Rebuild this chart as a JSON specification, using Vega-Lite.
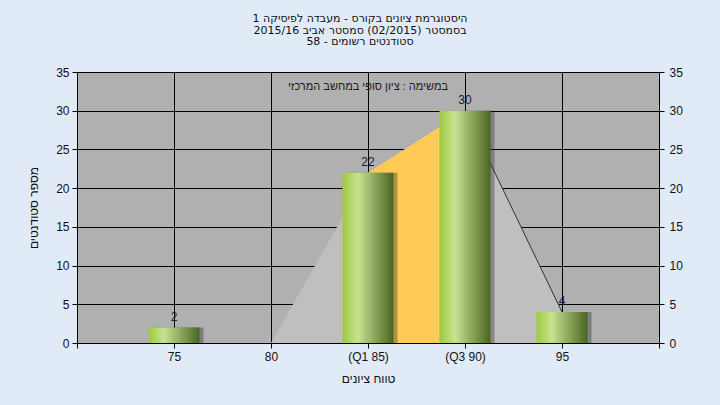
{
  "$schema": "https://vega.github.io/schema/vega-lite/v6.json",
  "width": 582,
  "height": 271,
  "autosize": {"type": "none"},
  "padding": {"left": 77, "top": 72, "right": 61, "bottom": 62},
  "background": "#e1ebf7",
  "title": {
    "text": ["היסטוגרמת ציונים בקורס - מעבדה לפיסיקה 1", "בסמסטר  (02/2015)  סמסטר אביב 2015/16", "סטודנטים רשומים - 58"],
    "font": "DejaVu Sans",
    "fontSize": 11,
    "fontWeight": "normal",
    "color": "#111111",
    "lineHeight": 11.5,
    "offset": 19,
    "dx": -8,
    "anchor": "middle"
  },
  "config": {
    "view": {"fill": "#b0b0b0", "stroke": "#000000", "strokeWidth": 1},
    "axis": {
      "domainColor": "#000000",
      "tickColor": "#000000",
      "gridColor": "#000000",
      "gridOpacity": 1,
      "gridWidth": 1,
      "tickSize": 5,
      "labelFont": "Liberation Sans",
      "labelFontSize": 12,
      "labelColor": "#111111",
      "titleFont": "Liberation Sans",
      "titleFontSize": 12,
      "titleFontWeight": "normal",
      "titleColor": "#111111"
    }
  },
  "datasets": {
    "bars": [
      {"score": 75, "count": 2},
      {"score": 80, "count": 0},
      {"score": 85, "count": 22},
      {"score": 90, "count": 30},
      {"score": 95, "count": 4}
    ],
    "poly": [
      {"score": 80, "count": 0},
      {"score": 85, "count": 22},
      {"score": 90, "count": 30},
      {"score": 95, "count": 4}
    ]
  },
  "resolve": {"axis": {"y": "independent"}},
  "layer": [
    {
      "data": {"name": "poly"},
      "mark": {"type": "area", "color": "#bfbfbf", "opacity": 1},
      "encoding": {
        "x": {
          "field": "score", "type": "quantitative",
          "scale": {"domain": [70, 100], "nice": false, "zero": false, "padding": 0},
          "axis": {
            "title": "טווח ציונים",
            "values": [70, 75, 80, 85, 90, 95, 100],
            "labelExpr": "datum.value == 85 ? '(Q1 85)' : datum.value == 90 ? '(Q3 90)' : (datum.value == 70 || datum.value == 100) ? '' : datum.label",
            "labelPadding": 3,
            "titlePadding": 11,
            "grid": true
          }
        },
        "y": {
          "field": "count", "type": "quantitative",
          "scale": {"domain": [0, 35], "nice": false},
          "axis": {
            "title": "מספר סטודנטים",
            "orient": "left",
            "values": [0, 5, 10, 15, 20, 25, 30, 35],
            "labelPadding": 3,
            "titlePadding": 15,
            "grid": true
          }
        }
      }
    },
    {
      "data": {"name": "poly"},
      "transform": [{"filter": "datum.score >= 85 && datum.score <= 90"}],
      "mark": {"type": "area", "color": "#ffca55", "opacity": 1},
      "encoding": {
        "x": {"field": "score", "type": "quantitative"},
        "y": {"field": "count", "type": "quantitative", "axis": null}
      }
    },
    {
      "data": {"name": "poly"},
      "transform": [{"filter": "datum.score >= 90"}],
      "mark": {"type": "line", "color": "#333333", "strokeWidth": 1},
      "encoding": {
        "x": {"field": "score", "type": "quantitative"},
        "y": {
          "field": "count", "type": "quantitative",
          "axis": {
            "title": null,
            "orient": "right",
            "values": [0, 5, 10, 15, 20, 25, 30, 35],
            "labelPadding": 5,
            "grid": false
          }
        }
      }
    },
    {
      "data": {"name": "bars"},
      "transform": [{"filter": "datum.count > 0"}],
      "mark": {"type": "bar", "width": 51, "color": "#222222", "opacity": 0.35, "xOffset": 4},
      "encoding": {
        "x": {"field": "score", "type": "quantitative"},
        "y": {"field": "count", "type": "quantitative", "axis": null}
      }
    },
    {
      "data": {"name": "bars"},
      "transform": [{"filter": "datum.count > 0"}],
      "mark": {
        "type": "bar",
        "width": 51,
        "color": {
          "gradient": "linear", "x1": 0, "y1": 0, "x2": 1, "y2": 0,
          "stops": [
            {"offset": 0, "color": "#9ccb3c"},
            {"offset": 0.3, "color": "#c8e292"},
            {"offset": 1, "color": "#4a6520"}
          ]
        }
      },
      "encoding": {
        "x": {"field": "score", "type": "quantitative"},
        "y": {"field": "count", "type": "quantitative", "axis": null}
      }
    },
    {
      "data": {"name": "bars"},
      "transform": [{"filter": "datum.count > 0"}],
      "mark": {"type": "text", "baseline": "bottom", "dy": -4, "font": "Liberation Sans", "fontSize": 12, "color": "#1a1a2e"},
      "encoding": {
        "x": {"field": "score", "type": "quantitative"},
        "y": {"field": "count", "type": "quantitative", "axis": null},
        "text": {"field": "count", "type": "quantitative"}
      }
    },
    {
      "data": {"values": [{"note": "במשימה : ציון סופי במחשב המרכזי"}]},
      "mark": {"type": "text", "baseline": "middle", "align": "center", "font": "Liberation Sans", "fontSize": 11, "color": "#1a1a1a"},
      "encoding": {
        "x": {"datum": 85, "type": "quantitative"},
        "y": {"datum": 33, "type": "quantitative", "axis": null},
        "text": {"field": "note", "type": "nominal"}
      }
    }
  ]
}
